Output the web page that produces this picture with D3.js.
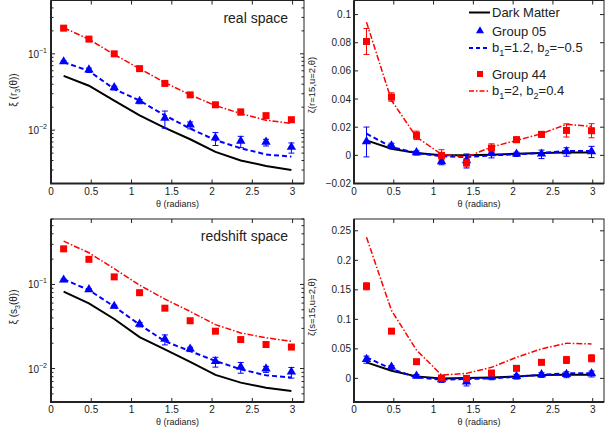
<!DOCTYPE html>
<html>
<head>
<meta charset="utf-8">
<script src="https://cdn.jsdelivr.net/npm/d3@7"></script>
<style>
  body { margin: 0; background: #fff; }
  svg { font-family: 'Liberation Sans', Arial, sans-serif; }
</style>
</head>
<body>
<div id="chart"></div>
<script>
// theta de los bines (radianes)
var theta = [0.157, 0.471, 0.785, 1.100, 1.414, 1.728, 2.042, 2.356, 2.670, 2.985]
var xTicks = [0, 0.5, 1, 1.5, 2, 2.5, 3]

// real space, xi(r3)
var realDM = [0.0514, 0.0382, 0.0244, 0.0156, 0.0107, 0.0076, 0.0052, 0.0040, 0.0034, 0.0030]
var realG05 = [0.078, 0.061, 0.0357, 0.0237, 0.0142, 0.0116, 0.0078, 0.0071, 0.0069, 0.0059]
var realG05Err = [0.003, 0.004, 0.002, 0.0015, 0.0036, 0.0012, 0.0015, 0.0012, 0.0007, 0.0009]
var realG05Model = [0.078, 0.0597, 0.0346, 0.0244, 0.0156, 0.0105, 0.0074, 0.0058, 0.0048, 0.0045]
var realG44 = [0.217, 0.156, 0.100, 0.064, 0.041, 0.029, 0.0215, 0.0173, 0.0155, 0.0137]
var realG44Err = [0.008, 0.006, 0.004, 0.003, 0.003, 0.002, 0.0015, 0.0015, 0.001, 0.001]
var realG44Model = [0.22, 0.155, 0.098, 0.064, 0.042, 0.029, 0.021, 0.0165, 0.0135, 0.0122]

// real space, zeta(r=15,u=2)
var zrDM = [0.0106, 0.0047, 0.0017, 0.0, 0.0, 0.0005, 0.0012, 0.0017, 0.0021, 0.0021]
var zrG05 = [0.0095, 0.0066, 0.0017, -0.0047, -0.004, 0.0012, 0.0007, 0.0007, 0.0024, 0.0024]
var zrG05Err = [0.0106, 0.002, 0.0015, 0.002, 0.005, 0.003, 0.0015, 0.003, 0.003, 0.004]
var zrG05Model = [0.0154, 0.0059, 0.0017, -0.0007, -0.0012, 0.0, 0.0007, 0.0017, 0.0031, 0.0031]
var zrG44 = [0.0809, 0.0414, 0.0142, 0.0, -0.0052, 0.0052, 0.0111, 0.0149, 0.0177, 0.0175]
var zrG44Err = [0.0092, 0.003, 0.003, 0.004, 0.003, 0.003, 0.002, 0.002, 0.0047, 0.005]
var zrG44Model = [0.0946, 0.039, 0.013, 0.0007, -0.0012, 0.0059, 0.0106, 0.0154, 0.022, 0.0206]

// redshift space, xi(s3)
var redDM = [0.082, 0.0597, 0.0388, 0.0236, 0.0169, 0.0120, 0.0084, 0.0068, 0.0059, 0.0054]
var redG05 = [0.112, 0.0858, 0.0546, 0.0333, 0.0221, 0.0169, 0.0120, 0.0103, 0.0098, 0.0090]
var redG05Err = [0.004, 0.003, 0.002, 0.002, 0.003, 0.001, 0.0016, 0.0015, 0.0008, 0.0013]
var redG05Model = [0.115, 0.0858, 0.0546, 0.0333, 0.0211, 0.0161, 0.0123, 0.0098, 0.0083, 0.0078]
var redG44 = [0.265, 0.199, 0.123, 0.0798, 0.0522, 0.037, 0.0278, 0.0221, 0.0193, 0.0180]
var redG44Err = [0.01, 0.008, 0.005, 0.003, 0.002, 0.0015, 0.0012, 0.001, 0.0008, 0.0008]
var redG44Model = [0.327, 0.238, 0.154, 0.098, 0.067, 0.0477, 0.0333, 0.0265, 0.0232, 0.0211]

// redshift space, zeta(s=15,u=2)
var zsDM = [0.0272, 0.013, 0.0034, 0.0, 0.0006, 0.0017, 0.0034, 0.0057, 0.0062, 0.0062]
var zsG05 = [0.0317, 0.0187, 0.0034, -0.0028, -0.0068, 0.0017, 0.0028, 0.0057, 0.0062, 0.0074]
var zsG05Err = [0.006, 0.003, 0.003, 0.004, 0.006, 0.004, 0.004, 0.004, 0.005, 0.005]
var zsG05Model = [0.0357, 0.0159, 0.0017, -0.0023, -0.0011, 0.0, 0.0028, 0.0062, 0.0085, 0.0085]
var zsG44 = [0.156, 0.080, 0.0283, 0.0006, 0.0, 0.0091, 0.017, 0.0272, 0.0312, 0.034]
var zsG44Err = [0.006, 0.004, 0.003, 0.003, 0.003, 0.003, 0.003, 0.004, 0.006, 0.006]
var zsG44Model = [0.239, 0.115, 0.048, 0.0057, 0.0085, 0.0187, 0.0357, 0.050, 0.0595, 0.0584]

var zrTicks = [-0.02, 0, 0.02, 0.04, 0.06, 0.08, 0.1]
var zsTicks = [0, 0.05, 0.1, 0.15, 0.2, 0.25]

var width = 613
var height = 429
var blue = '#0000ff'
var red = '#ff0000'
var textColor = '#222'

var svg = d3
  .select('#chart')
  .append('svg')
  .attr('width', width)
  .attr('height', height)

function drawPanel(p) {
  var g = svg.append('g')
  var x = d3.scaleLinear().domain([0, Math.PI]).range([p.x0, p.x1])
  var y = p.log
    ? d3.scaleLog().domain(p.yDomain).range([p.y1, p.y0])
    : d3.scaleLinear().domain(p.yDomain).range([p.y1, p.y0])

  // ticks interiores (estilo matlab)
  var tk = g.append('g').attr('stroke', '#222').attr('stroke-width', 1)
  xTicks.forEach(function (t) {
    tk.append('line').attr('x1', x(t)).attr('x2', x(t)).attr('y1', p.y1).attr('y2', p.y1 - 4)
    tk.append('line').attr('x1', x(t)).attr('x2', x(t)).attr('y1', p.y0).attr('y2', p.y0 + 4)
  })
  var yMajor = p.log ? [0.01, 0.1] : p.yTicks
  yMajor.forEach(function (t) {
    tk.append('line').attr('x1', p.x0).attr('x2', p.x0 + 4).attr('y1', y(t)).attr('y2', y(t))
    tk.append('line').attr('x1', p.x1).attr('x2', p.x1 - 4).attr('y1', y(t)).attr('y2', y(t))
  })
  if (p.log) {
    y.ticks().forEach(function (t) {
      if (yMajor.indexOf(t) >= 0) return
      tk.append('line').attr('x1', p.x0).attr('x2', p.x0 + 2.5).attr('y1', y(t)).attr('y2', y(t))
      tk.append('line').attr('x1', p.x1).attr('x2', p.x1 - 2.5).attr('y1', y(t)).attr('y2', y(t))
    })
  }

  // etiquetas de ejes
  g.append('g')
    .selectAll('text')
    .data(xTicks)
    .enter()
    .append('text')
    .attr('x', (d) => x(d))
    .attr('y', p.y1 + 11)
    .attr('text-anchor', 'middle')
    .attr('font-size', 10)
    .attr('fill', textColor)
    .text((d) => d)

  if (p.log) {
    yMajor.forEach(function (t) {
      var tx = g.append('text')
        .attr('x', p.x0 - 4)
        .attr('y', y(t) + 4)
        .attr('text-anchor', 'end')
        .attr('font-size', 10)
        .attr('fill', textColor)
      tx.append('tspan').text('10')
      tx.append('tspan').attr('dy', -5).attr('font-size', 7).text(t == 0.1 ? '\u22121' : '\u22122')
    })
  } else {
    g.append('g')
      .selectAll('text')
      .data(p.yTicks)
      .enter()
      .append('text')
      .attr('x', p.x0 - 3)
      .attr('y', (d) => y(d) + 3.5)
      .attr('text-anchor', 'end')
      .attr('font-size', 10)
      .attr('fill', textColor)
      .text((d) => (d < 0 ? '\u2212' + Math.abs(d) : d))
  }

  g.append('text')
    .attr('x', (p.x0 + p.x1) / 2)
    .attr('y', p.y1 + 23)
    .attr('text-anchor', 'middle')
    .attr('font-size', 9)
    .attr('fill', textColor)
    .text('\u03b8 (radians)')

  var yl = g.append('text')
    .attr('transform', 'translate(' + p.labelX + ',' + p.labelY + ') rotate(-90)')
    .attr('text-anchor', 'middle')
    .attr('font-size', p.labelSize)
    .attr('fill', textColor)
  p.yLabel.forEach(function (part) {
    var ts = yl.append('tspan').text(part[0])
    if (part[1] == 'sub') ts.attr('font-size', 7).attr('dy', 3)
    if (part[1] == 'up') ts.attr('dy', -3)
  })

  if (p.title) {
    g.append('text')
      .attr('x', p.x1 - 16)
      .attr('y', p.y0 + 22)
      .attr('text-anchor', 'end')
      .attr('font-size', 14)
      .attr('fill', textColor)
      .text(p.title)
  }

  var clip = 'clip' + p.id
  g.append('clipPath').attr('id', clip).append('rect')
    .attr('x', p.x0).attr('y', p.y0).attr('width', p.x1 - p.x0).attr('height', p.y1 - p.y0)
  var plot = g.append('g').attr('clip-path', 'url(#' + clip + ')')

  var line = d3.line().x((d) => x(d[0])).y((d) => y(d[1]))
  function serie(vals) {
    return theta.map((t, i) => [t, vals[i]])
  }

  plot.append('path').datum(serie(p.dm)).attr('d', line)
    .attr('fill', 'none').attr('stroke', '#000').attr('stroke-width', 2)
  plot.append('path').datum(serie(p.g05Model)).attr('d', line)
    .attr('fill', 'none').attr('stroke', blue).attr('stroke-width', 2).attr('stroke-dasharray', '5,3')
  plot.append('path').datum(serie(p.g44Model)).attr('d', line)
    .attr('fill', 'none').attr('stroke', red).attr('stroke-width', 1.5).attr('stroke-dasharray', '6,2,1.5,2')

  // barras de error
  function errores(vals, errs, color) {
    var eg = plot.append('g').attr('stroke', color).attr('stroke-width', 1)
    theta.forEach(function (t, i) {
      var lo = vals[i] - errs[i]
      var hi = vals[i] + errs[i]
      eg.append('line').attr('x1', x(t)).attr('x2', x(t)).attr('y1', y(lo)).attr('y2', y(hi))
      eg.append('line').attr('x1', x(t) - 3).attr('x2', x(t) + 3).attr('y1', y(lo)).attr('y2', y(lo))
      eg.append('line').attr('x1', x(t) - 3).attr('x2', x(t) + 3).attr('y1', y(hi)).attr('y2', y(hi))
    })
  }
  errores(p.g05, p.g05Err, blue)
  errores(p.g44, p.g44Err, red)

  var tri = d3.symbol().type(d3.symbolTriangle).size(38)
  plot.append('g')
    .selectAll('path')
    .data(serie(p.g05))
    .enter()
    .append('path')
    .attr('d', tri)
    .attr('transform', (d) => 'translate(' + x(d[0]) + ',' + (y(d[1]) - 0.5) + ')')
    .attr('fill', blue)

  plot.append('g')
    .selectAll('rect')
    .data(serie(p.g44))
    .enter()
    .append('rect')
    .attr('x', (d) => x(d[0]) - 3.5)
    .attr('y', (d) => y(d[1]) - 3.5)
    .attr('width', 7)
    .attr('height', 7)
    .attr('fill', red)

  // marco
  g.append('rect')
    .attr('x', p.x0).attr('y', p.y0).attr('width', p.x1 - p.x0).attr('height', p.y1 - p.y0)
    .attr('fill', 'none').attr('stroke', '#222').attr('stroke-width', 1)
  g.append('path')
    .attr('d', 'M' + p.x0 + ',' + p.y0 + 'V' + p.y1 + 'H' + p.x1)
    .attr('fill', 'none').attr('stroke', '#222').attr('stroke-width', 2)

  return { x: x, y: y }
}

drawPanel({
  id: 1, x0: 51, x1: 304, y0: 0.5, y1: 183.5, log: true, yDomain: [0.002, 0.5],
  labelX: 17, labelY: 90, labelSize: 10,
  yLabel: [['\u03be (r', ''], ['3', 'sub'], ['(\u03b8))', 'up']], title: 'real space',
  dm: realDM, g05: realG05, g05Err: realG05Err, g05Model: realG05Model,
  g44: realG44, g44Err: realG44Err, g44Model: realG44Model
})

drawPanel({
  id: 2, x0: 354, x1: 604, y0: 0.5, y1: 183.5, log: false, yDomain: [-0.02, 0.11], yTicks: zrTicks,
  labelX: 315, labelY: 85, labelSize: 9.5, yLabel: [['\u03b6(r=15,u=2,\u03b8)', '']],
  dm: zrDM, g05: zrG05, g05Err: zrG05Err, g05Model: zrG05Model,
  g44: zrG44, g44Err: zrG44Err, g44Model: zrG44Model
})

drawPanel({
  id: 3, x0: 51, x1: 304, y0: 219, y1: 402, log: true, yDomain: [0.004, 0.6],
  labelX: 17, labelY: 307, labelSize: 10,
  yLabel: [['\u03be (s', ''], ['3', 'sub'], ['(\u03b8))', 'up']], title: 'redshift space',
  dm: redDM, g05: redG05, g05Err: redG05Err, g05Model: redG05Model,
  g44: redG44, g44Err: redG44Err, g44Model: redG44Model
})

drawPanel({
  id: 4, x0: 354, x1: 604, y0: 219, y1: 402, log: false, yDomain: [-0.04, 0.27], yTicks: zsTicks,
  labelX: 315, labelY: 307, labelSize: 9.5, yLabel: [['\u03b6(s=15,u=2,\u03b8)', '']],
  dm: zsDM, g05: zsG05, g05Err: zsG05Err, g05Model: zsG05Model,
  g44: zsG44, g44Err: zsG44Err, g44Model: zsG44Model
})

// Leyenda
var legend = svg.append('g').attr('font-size', 13).attr('fill', textColor)
var lx0 = 469
var lx1 = 490
var tx = 492

legend.append('line').attr('x1', lx0).attr('x2', lx1).attr('y1', 12.5).attr('y2', 12.5)
  .attr('stroke', '#000').attr('stroke-width', 2)
legend.append('text').attr('x', tx).attr('y', 17).text('Dark Matter')

legend.append('path').attr('d', d3.symbol().type(d3.symbolTriangle).size(28))
  .attr('transform', 'translate(480,31)').attr('fill', blue)
legend.append('text').attr('x', tx).attr('y', 36).text('Group 05')

legend.append('line').attr('x1', lx0).attr('x2', lx1).attr('y1', 48).attr('y2', 48)
  .attr('stroke', blue).attr('stroke-width', 2).attr('stroke-dasharray', '4,3')
var t1 = legend.append('text').attr('x', tx).attr('y', 52)
t1.append('tspan').text('b')
t1.append('tspan').attr('font-size', 9).attr('dy', 4).text('1')
t1.append('tspan').attr('dy', -4).text('=1.2, b')
t1.append('tspan').attr('font-size', 9).attr('dy', 4).text('2')
t1.append('tspan').attr('dy', -4).text('=\u22120.5')

legend.append('rect').attr('x', 477).attr('y', 71).attr('width', 6).attr('height', 6).attr('fill', red)
legend.append('text').attr('x', tx).attr('y', 79).text('Group 44')

legend.append('line').attr('x1', lx0).attr('x2', lx1).attr('y1', 91).attr('y2', 91)
  .attr('stroke', red).attr('stroke-width', 1.5).attr('stroke-dasharray', '5,2,1.5,2')
var t2 = legend.append('text').attr('x', tx).attr('y', 95)
t2.append('tspan').text('b')
t2.append('tspan').attr('font-size', 9).attr('dy', 4).text('1')
t2.append('tspan').attr('dy', -4).text('=2, b')
t2.append('tspan').attr('font-size', 9).attr('dy', 4).text('2')
t2.append('tspan').attr('dy', -4).text('=0.4')
</script>
</body>
</html>
